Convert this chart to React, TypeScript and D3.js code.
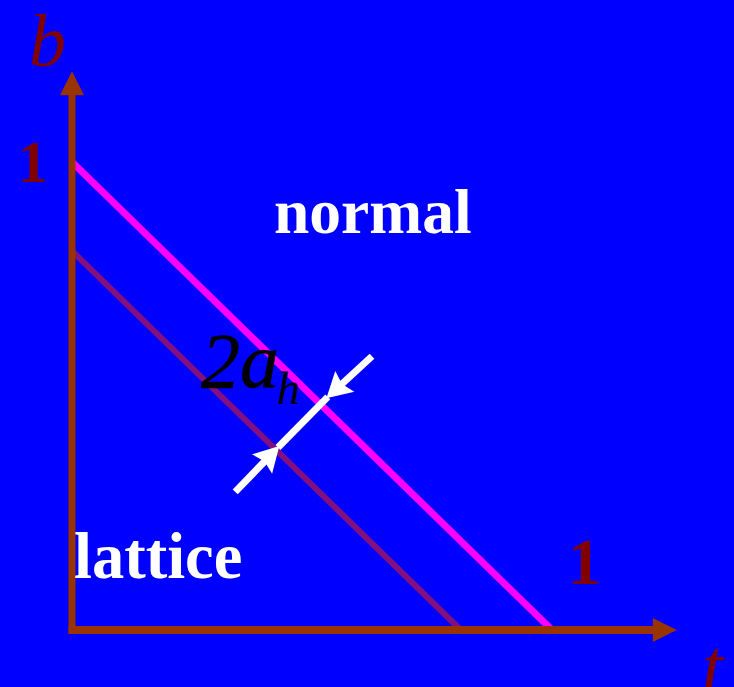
import React from "react";
import * as d3 from "d3";

const W = 734;
const H = 687;

// Lines (t, b) in data units
const normalLineT = [0, 1];
const normalLineB = [1, 0];
const latticeLineT = [0, 0.81];
const latticeLineB = [0.81, 0];

// annotation arrow points (t, b)
const arrowOuterLower = [0.34, 0.295];
const arrowTipLower = [0.432, 0.393];
const arrowTipUpper = [0.53, 0.495];
const arrowOuterUpper = [0.625, 0.585];

const axisMaxT = 1.26;
const axisMaxB = 1.194;

const labels = {
  regionTop: "normal",
  regionBottom: "lattice",
  yName: "b",
  xName: "t",
  tickOne: "1",
};

const BG = "#0000FF";
const AXIS = "#993300";
const DARKRED = "#800000";
const SERIF = "'Liberation Serif', 'Times New Roman', Times, serif";

function arrowHead(tip: [number, number], from: [number, number], len: number, half: number) {
  const dx = tip[0] - from[0];
  const dy = tip[1] - from[1];
  const L = Math.hypot(dx, dy);
  const ux = dx / L, uy = dy / L;
  const px = -uy, py = ux;
  const bx = tip[0] - ux * len, by = tip[1] - uy * len;
  const nx = tip[0] - ux * len * 0.85, ny = tip[1] - uy * len * 0.85;
  return `M${tip[0]},${tip[1]} L${bx + px * half},${by + py * half} L${nx},${ny} L${bx - px * half},${by - py * half} Z`;
}

export default function App() {
  const x = d3.scaleLinear().domain([0, 1]).range([72, 552]);
  const y = d3.scaleLinear().domain([0, 1]).range([630, 162]);

  const line = d3
    .line<[number, number]>()
    .x((d) => x(d[0]))
    .y((d) => y(d[1]));

  const normalPts = normalLineT.map((t, i) => [t, normalLineB[i]] as [number, number]);
  const latticePts = latticeLineT.map((t, i) => [t, latticeLineB[i]] as [number, number]);

  const P = (d: number[]) => [x(d[0]), y(d[1])] as [number, number];
  const oL = P(arrowOuterLower);
  const tL = P(arrowTipLower);
  const tU = P(arrowTipUpper);
  const oU = P(arrowOuterUpper);
  const headLen = 25;
  const half = 14;
  const shorten = (tip: [number, number], from: [number, number], d: number) => {
    const dx = tip[0] - from[0], dy = tip[1] - from[1];
    const L = Math.hypot(dx, dy);
    return [tip[0] - (dx / L) * d, tip[1] - (dy / L) * d] as [number, number];
  };
  const sL = shorten(tL, oL, headLen * 0.8);
  const sU = shorten(tU, oU, headLen * 0.8);
  const mL = shorten(tL, tU, -2);
  const mU = shorten(tU, tL, -2);

  const x0 = x(0);
  const y0 = y(0);
  const xTip = x(axisMaxT);
  const yTip = y(axisMaxB);

  return (
    <svg
      width={W}
      height={H}
      style={{ position: "absolute", left: 0, top: 0, display: "block" }}
    >
      <rect x={0} y={0} width={W} height={H} fill={BG} />

      {/* region lines */}
      <path d={line(latticePts) || ""} stroke="#82107F" strokeWidth={6} fill="none" />
      <path d={line(normalPts) || ""} stroke="#FF00FF" strokeWidth={7} fill="none" />

      {/* axes */}
      <line x1={x0} y1={y0 + 4} x2={x0} y2={yTip + 20} stroke={AXIS} strokeWidth={7} />
      <path d={`M${x0},${yTip} L${x0 - 12},${yTip + 24} L${x0 + 12},${yTip + 24} Z`} fill={AXIS} />
      <line x1={x0 - 3.5} y1={y0} x2={xTip - 20} y2={y0} stroke={AXIS} strokeWidth={8} />
      <path d={`M${xTip},${y0} L${xTip - 24},${y0 - 12} L${xTip - 24},${y0 + 12} Z`} fill={AXIS} />

      {/* 2a_h annotation */}
      <line x1={mL[0]} y1={mL[1]} x2={mU[0]} y2={mU[1]} stroke="#FFFFFF" strokeWidth={7} />
      <line x1={oL[0]} y1={oL[1]} x2={sL[0]} y2={sL[1]} stroke="#FFFFFF" strokeWidth={7} />
      <line x1={oU[0]} y1={oU[1]} x2={sU[0]} y2={sU[1]} stroke="#FFFFFF" strokeWidth={7} />
      <path d={arrowHead(tL, oL, headLen, half)} fill="#FFFFFF" />
      <path d={arrowHead(tU, oU, headLen, half)} fill="#FFFFFF" />

      <text x={201} y={387} fontFamily={SERIF} fontStyle="italic" fontSize={78} fill="#000000" stroke="#000000" strokeWidth={0.6}>
        2a
      </text>
      <text x={277} y={404} fontFamily={SERIF} fontStyle="italic" fontSize={46} fill="#000000">
        h
      </text>

      {/* labels */}
      <text x={274} y={233} fontFamily={SERIF} fontWeight="bold" fontSize={63.5} fill="#FFFFFF">
        {labels.regionTop}
      </text>
      <text x={74} y={578} fontFamily={SERIF} fontWeight="bold" fontSize={64.5} fill="#FFFFFF">
        {labels.regionBottom}
      </text>

      <text x={29} y={66} fontFamily={SERIF} fontStyle="italic" fontSize={74} fill={DARKRED}>
        {labels.yName}
      </text>
      <text x={702} y={692} fontFamily={SERIF} fontStyle="italic" fontSize={76} fill={DARKRED}>
        {labels.xName}
      </text>

      <text x={18} y={182} fontFamily={SERIF} fontWeight="bold" fontSize={59} fill={DARKRED}>
        {labels.tickOne}
      </text>
      <text x={568} y={584} fontFamily={SERIF} fontWeight="bold" fontSize={66} fill={DARKRED}>
        {labels.tickOne}
      </text>
    </svg>
  );
}
